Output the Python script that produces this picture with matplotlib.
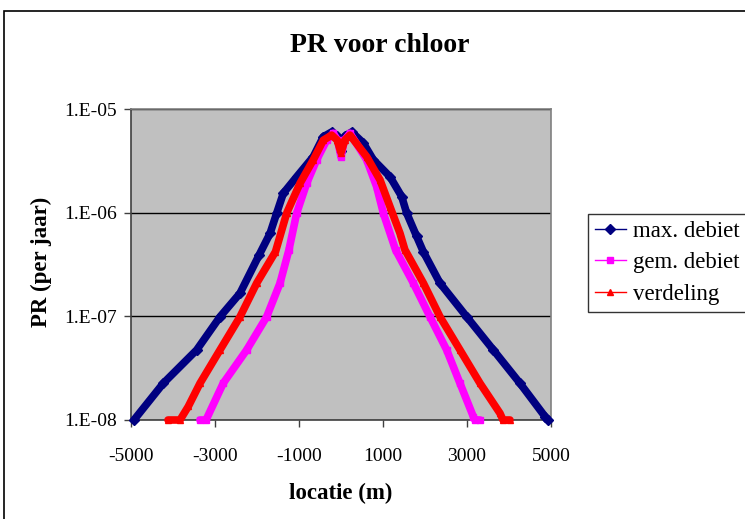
import numpy as np
import matplotlib.pyplot as plt
from matplotlib.lines import Line2D
from matplotlib.patches import Rectangle
from matplotlib.ticker import FixedLocator, FuncFormatter, NullLocator

plt.rcParams['font.family'] = ['Liberation Serif', 'DejaVu Serif']
plt.rcParams['axes.unicode_minus'] = False

# max. debiet
max_x = [-4930, -4231, -3436, -2881, -2405, -1950, -1690, -1531, -1373, -1055,
         -659, -421, -222, -100, 0, 100, 255, 531, 769, 1167,
         1445, 1564, 1802, 1960, 2357, 2993, 3627, 4262, 4857, 4930]
max_y = [1.0e-8, 2.26e-8, 4.74e-8, 9.9e-8, 1.67e-7, 3.9e-7, 6.3e-7, 9.9e-7, 1.54e-6, 2.22e-6,
         3.47e-6, 5.4e-6, 6.0e-6, 5.5e-6, 3.9e-6, 5.5e-6, 6.0e-6, 4.7e-6, 3.24e-6, 2.22e-6,
         1.43e-6, 9.9e-7, 5.9e-7, 4.2e-7, 2.09e-7, 9.9e-8, 4.74e-8, 2.26e-8, 1.08e-8, 1.0e-8]

# gem. debiet
gem_x = [-3357, -3214, -2805, -2246, -1770, -1452, -1240, -1055, -817, -579,
         -341, -183, -80, 0, 80, 214, 611, 849, 1008, 1300,
         1723, 2119, 2516, 2833, 3150, 3190, 3310]
gem_y = [1.0e-8, 1.0e-8, 2.26e-8, 4.74e-8, 9.9e-8, 2.09e-7, 4.37e-7, 9.9e-7, 1.92e-6, 3.24e-6,
         5.0e-6, 5.83e-6, 5.0e-6, 3.45e-6, 5.0e-6, 5.83e-6, 3.24e-6, 1.78e-6, 9.9e-7, 4.37e-7,
         2.09e-7, 9.9e-8, 4.74e-8, 2.26e-8, 1.08e-8, 1.0e-8, 1.0e-8]

# verdeling
ver_x = [-4119, -3833, -3636, -3357, -2881, -2405, -2007, -1560, -1293, -976,
         -659, -421, -222, -90, 0, 90, 214, 611, 929, 1167,
         1405, 1520, 1962, 2357, 2833, 3310, 3786, 3857, 4024]
ver_y = [1.0e-8, 1.0e-8, 1.35e-8, 2.26e-8, 4.74e-8, 9.9e-8, 2.09e-7, 4.2e-7, 9.9e-7, 1.92e-6,
         3.24e-6, 5.0e-6, 5.6e-6, 5.0e-6, 3.8e-6, 5.0e-6, 5.6e-6, 3.47e-6, 2.07e-6, 1.14e-6,
         6.32e-7, 4.4e-7, 2.09e-7, 9.9e-8, 4.74e-8, 2.26e-8, 1.16e-8, 1.0e-8, 1.0e-8]

labels = ['max. debiet', 'gem. debiet', 'verdeling']
colors = ['#000080', '#FF00FF', '#FF0000']
markers = ['D', 's', '^']

fig = plt.figure(figsize=(7.45, 5.19), dpi=100)
fig.patches.append(Rectangle((4 / 745, -0.1), 1.2, 1 - 11 / 519 + 0.1,
                             transform=fig.transFigure, fill=False,
                             edgecolor='black', lw=1.2))

ax = fig.add_axes([131 / 745, 1 - 420 / 519, 420 / 745, 311 / 519])
ax.set_facecolor('#C0C0C0')

for xs, ys, c, m in zip([max_x, gem_x, ver_x], [max_y, gem_y, ver_y], colors, markers):
    ax.plot(xs, ys, color=c, lw=5.5, marker=m, ms=5, mec=c, mfc=c,
            solid_joinstyle='round', solid_capstyle='round', clip_on=False, zorder=3)

ax.set_yscale('log')
ax.set_ylim(1e-8, 1e-5)
ax.set_xlim(-5000, 5000)
ax.yaxis.set_major_locator(FixedLocator([1e-8, 1e-7, 1e-6, 1e-5]))
ax.yaxis.set_minor_locator(NullLocator())
ax.yaxis.set_major_formatter(FuncFormatter(lambda v, p: '1.E%03d' % round(np.log10(v))))
ax.set_xticks([-5000, -3000, -1000, 1000, 3000, 5000])
ax.grid(axis='y', color='black', lw=1)
ax.set_axisbelow(True)
ax.tick_params(direction='out', length=5, width=1, colors='#404040',
               labelcolor='black', labelsize=14)
ax.tick_params(axis='y', pad=5)
ax.tick_params(axis='x', pad=15)
for s in ax.spines.values():
    s.set_color('#808080')
    s.set_linewidth(1.2)
ax.spines['left'].set_color('#404040')
ax.spines['bottom'].set_color('#404040')

fig.text(380 / 745, 1 - 45 / 519, 'PR voor chloor', ha='center', va='center',
         fontsize=20, fontweight='bold')
fig.text(341 / 745, 1 - 493 / 519, 'locatie (m)', ha='center', va='center',
         fontsize=16.5, fontweight='bold')
fig.text(41 / 745, 1 - 262 / 519, 'PR (per jaar)', ha='center', va='center',
         fontsize=16.5, fontweight='bold', rotation=90)

handles = [Line2D([0], [0], color=c, lw=1, marker=m, ms=5, mfc=c, mec=c)
           for c, m in zip(colors, markers)]
leg = fig.legend(handles, labels, loc='upper left', bbox_to_anchor=(588 / 745, 1 - 214 / 519),
                 fontsize=16.5, frameon=True, fancybox=False, borderaxespad=0,
                 handlelength=1.35, handletextpad=0.3, labelspacing=0.45, borderpad=0.3)
leg.get_frame().set_edgecolor('black')
leg.get_frame().set_linewidth(1)

fig.savefig('out.png', dpi=100)
